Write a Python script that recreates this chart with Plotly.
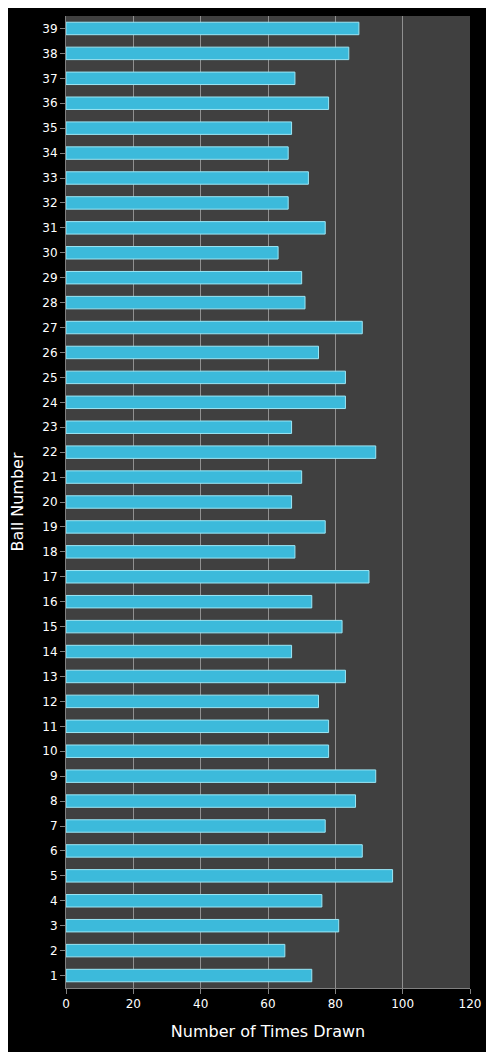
import plotly.graph_objects as go

balls = [str(i) for i in range(1, 40)]
counts = [73, 65, 81, 76, 97, 88, 77, 86, 92, 78,
          78, 75, 83, 67, 82, 73, 90, 68, 77, 67,
          70, 92, 67, 83, 83, 75, 88, 71, 70, 63,
          77, 66, 72, 66, 67, 78, 68, 84, 87]

fig = go.Figure(go.Bar(
    y=balls, x=counts, orientation="h", width=0.5,
    marker=dict(color="#3cbadb", line=dict(color="#9be6f5", width=1)),
))
fig.update_layout(
    width=494, height=1052, paper_bgcolor="black", plot_bgcolor="#404040",
    margin=dict(l=58, r=32, t=8, b=72, autoexpand=False), showlegend=False,
    font=dict(family="DejaVu Sans", color="white", size=12),
    bargap=0.5,
)
fig.update_xaxes(range=[0, 120], dtick=20, showgrid=True, gridcolor="#909090",
                 zeroline=False, tickfont=dict(size=12),
                 title=dict(text="Number of Times Drawn", font=dict(size=16)),
                 showline=True, linecolor="#808080", ticks="outside", tickcolor="#808080")
fig.update_yaxes(title=dict(text="Ball Number", font=dict(size=16)),
                 tickfont=dict(size=12), showline=True, linecolor="#808080",
                 ticks="outside", tickcolor="#808080")
fig.write_html("out.html")
